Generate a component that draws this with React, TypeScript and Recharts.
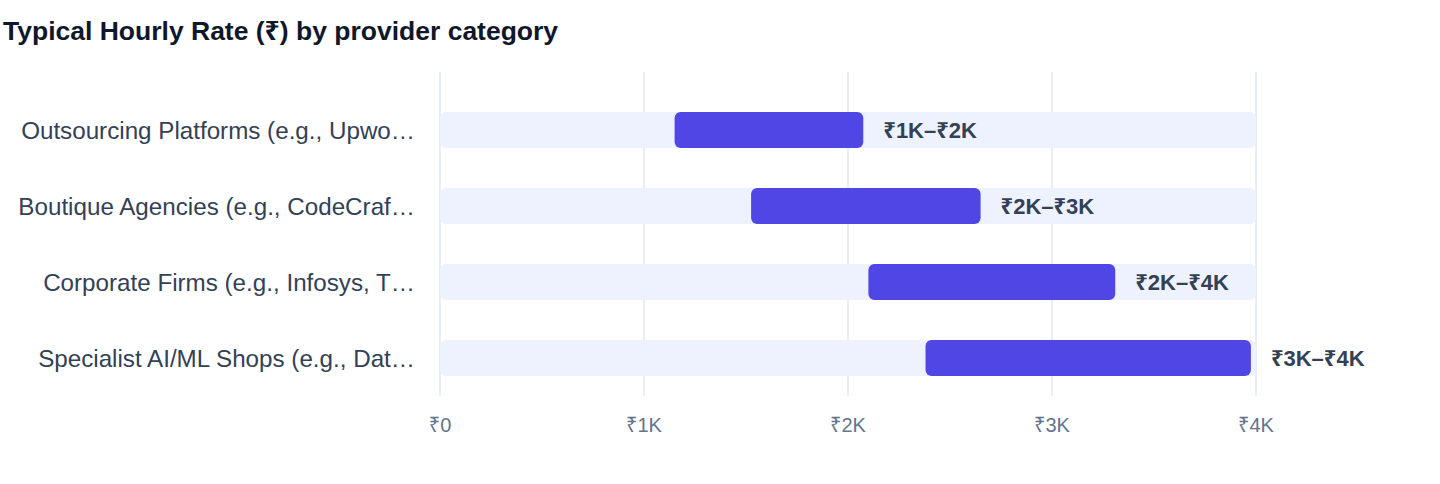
import { BarChart, Bar, XAxis, YAxis, CartesianGrid, LabelList } from 'recharts'

const categories = [
  'Outsourcing Platforms (e.g., Upwo…',
  'Boutique Agencies (e.g., CodeCraf…',
  'Corporate Firms (e.g., Infosys, T…',
  'Specialist AI/ML Shops (e.g., Dat…',
]
const minRates = [1150, 1525, 2100, 2380]
const maxRates = [2075, 2650, 3310, 3975]
const rangeLabels = ['₹1K–₹2K', '₹2K–₹3K', '₹2K–₹4K', '₹3K–₹4K']
const xTicks = [0, 1000, 2000, 3000, 4000]

const data = categories.map((name, i) => ({
  name,
  min: minRates[i],
  range: maxRates[i] - minRates[i],
  label: rangeLabels[i],
}))

const font = '"Liberation Sans", Arial, "Noto Sans", "DejaVu Sans", sans-serif'

export default function App() {
  return (
    <div style={{ position: 'absolute', top: 0, left: 0, width: 1440, height: 484, background: '#fff', fontFamily: font }}>
      <div style={{ position: 'absolute', left: 3, top: 16, fontSize: 26.5, fontWeight: 700, color: '#0f172a', lineHeight: '30px' }}>
        Typical Hourly Rate (₹) by provider category
      </div>
      <div style={{ position: 'absolute', top: 52, left: 0 }}>
        <BarChart
          width={1440}
          height={420}
          data={data}
          layout="vertical"
          margin={{ top: 20, right: 184, bottom: 36, left: 0 }}
        >
          <CartesianGrid horizontal={false} stroke="#e2e8f0" strokeWidth={1.5} />
          <XAxis
            type="number"
            domain={[0, 4000]}
            ticks={xTicks}
            axisLine={false}
            tickLine={false}
            tickMargin={16}
            height={40}
            tick={{ fill: '#64748b', fontSize: 20 }}
            tickFormatter={(v: number) => (v === 0 ? '₹0' : `₹${v / 1000}K`)}
          />
          <YAxis
            type="category"
            dataKey="name"
            width={440}
            axisLine={false}
            tickLine={false}
            tickMargin={19}
            padding={{ top: 20, bottom: 0 }}
            tick={{ fill: '#334155', fontSize: 24.2 }}
          />
          <Bar
            dataKey="min"
            stackId="a"
            fill="transparent"
            barSize={36}
            background={{ fill: '#eef2ff', radius: 6 }}
            isAnimationActive={false}
          />
          <Bar dataKey="range" stackId="a" fill="#4f46e5" radius={6} barSize={36} isAnimationActive={false}>
            <LabelList
              dataKey="label"
              position="right"
              offset={20}
              fill="#334155"
              fontSize={22}
              fontWeight={700}
            />
          </Bar>
        </BarChart>
      </div>
    </div>
  )
}
